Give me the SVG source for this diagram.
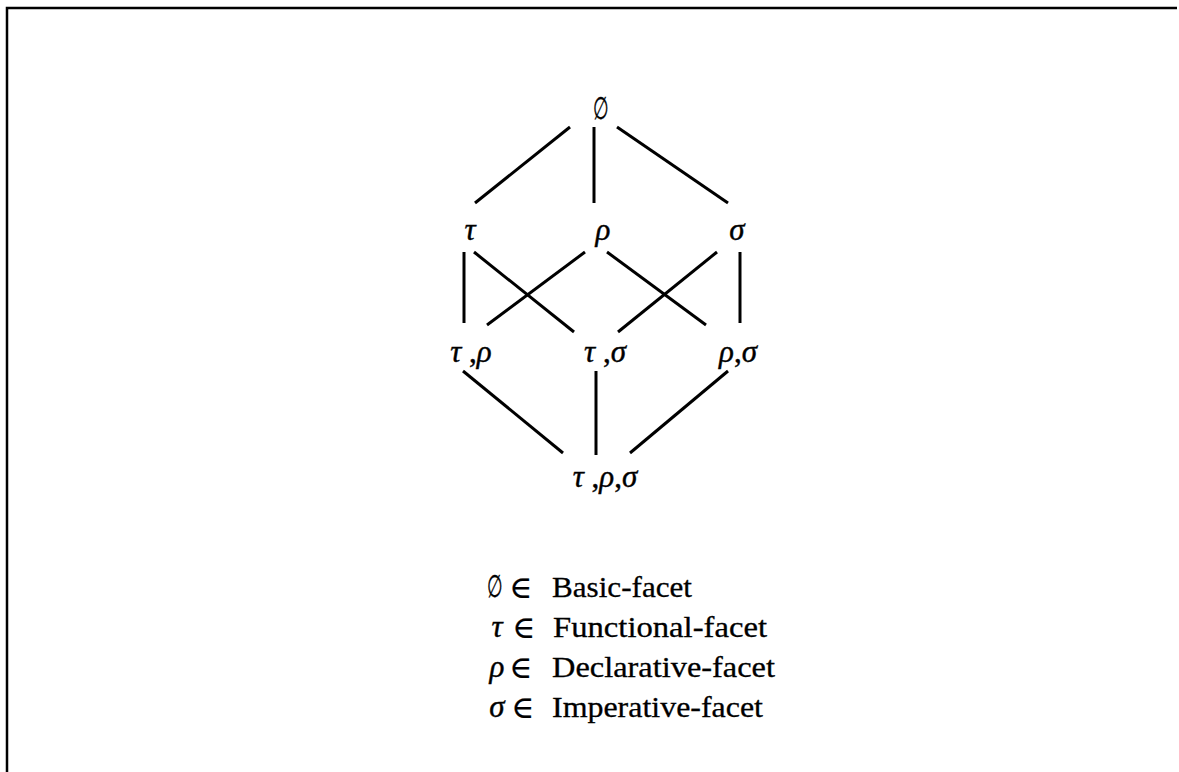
<svg xmlns="http://www.w3.org/2000/svg" width="1179" height="772" viewBox="0 0 1179 772">
<style>
.bg{fill:#ffffff}
.frame{stroke:#000;stroke-width:2.5;fill:none}
.edge{stroke:#000;stroke-width:3;stroke-linecap:butt}
.lbl{font-family:"Liberation Serif","DejaVu Serif",serif;font-size:31px;fill:#000;stroke:#000;stroke-width:0.4}
.gk{font-style:italic}
.sym{font-family:"DejaVu Serif","Liberation Serif",serif;font-size:24px;fill:#000;stroke:#000;stroke-width:0.3}
.el{font-family:"DejaVu Serif","Liberation Serif",serif;font-size:31px;fill:#000;stroke:#000;stroke-width:0.2}
.word{font-family:"Liberation Serif","DejaVu Serif",serif;font-size:29px;fill:#000;stroke:#000;stroke-width:0.3}
</style>
<rect class="bg" x="0" y="0" width="1179" height="772"/>
<path class="frame" d="M7,772 V8 H1177"/>
<g id="connectors">
<line class="edge" x1="570" y1="127" x2="475" y2="203"/>
<line class="edge" x1="594" y1="127" x2="594" y2="203"/>
<line class="edge" x1="617" y1="127" x2="728" y2="203"/>
<line class="edge" x1="464" y1="252" x2="464" y2="323"/>
<line class="edge" x1="474" y1="252" x2="574" y2="332"/>
<line class="edge" x1="585" y1="252" x2="487" y2="325"/>
<line class="edge" x1="607" y1="252" x2="706" y2="325"/>
<line class="edge" x1="717" y1="252" x2="618" y2="332"/>
<line class="edge" x1="740" y1="252" x2="740" y2="323"/>
<line class="edge" x1="463" y1="371" x2="563" y2="453"/>
<line class="edge" x1="596" y1="371" x2="596" y2="455"/>
<line class="edge" x1="728" y1="371" x2="630" y2="453"/>
</g>
<g id="node-empty"><text class="sym" transform="translate(601,119) scale(0.75,1.3)" x="0" y="0" text-anchor="middle">∅</text></g>
<g id="node-tau"><text class="lbl gk" x="470" y="240" text-anchor="middle">τ</text></g>
<g id="node-rho"><text class="lbl gk" x="603" y="240" text-anchor="middle">ρ</text></g>
<g id="node-sigma"><text class="lbl gk" x="737" y="240" text-anchor="middle">σ</text></g>
<g id="node-tau-rho"><text class="lbl" x="471" y="362" text-anchor="middle"><tspan class="gk">τ</tspan> ,<tspan class="gk">ρ</tspan></text></g>
<g id="node-tau-sigma"><text class="lbl" x="605" y="362" text-anchor="middle"><tspan class="gk">τ</tspan> ,<tspan class="gk">σ</tspan></text></g>
<g id="node-rho-sigma"><text class="lbl" x="738" y="362" text-anchor="middle"><tspan class="gk">ρ</tspan>,<tspan class="gk">σ</tspan></text></g>
<g id="node-tau-rho-sigma"><text class="lbl" x="605" y="487" text-anchor="middle"><tspan class="gk">τ</tspan> ,<tspan class="gk">ρ</tspan>,<tspan class="gk">σ</tspan></text></g>
<g id="legend">
<text class="sym" transform="translate(495,597) scale(0.75,1.3)" x="0" y="0" text-anchor="middle">∅</text>
<text class="el" x="521" y="598" text-anchor="middle">∈</text>
<text class="word" x="552" y="597" textLength="140" lengthAdjust="spacingAndGlyphs">Basic-facet</text>
<text class="lbl gk" x="497" y="637" text-anchor="middle">τ</text>
<text class="el" x="524" y="638" text-anchor="middle">∈</text>
<text class="word" x="553" y="637" textLength="214" lengthAdjust="spacingAndGlyphs">Functional-facet</text>
<text class="lbl gk" x="497" y="677" text-anchor="middle">ρ</text>
<text class="el" x="521" y="678" text-anchor="middle">∈</text>
<text class="word" x="552" y="677" textLength="223" lengthAdjust="spacingAndGlyphs">Declarative-facet</text>
<text class="lbl gk" x="497" y="717" text-anchor="middle">σ</text>
<text class="el" x="523" y="718" text-anchor="middle">∈</text>
<text class="word" x="552" y="717" textLength="211" lengthAdjust="spacingAndGlyphs">Imperative-facet</text>
</g>
</svg>
